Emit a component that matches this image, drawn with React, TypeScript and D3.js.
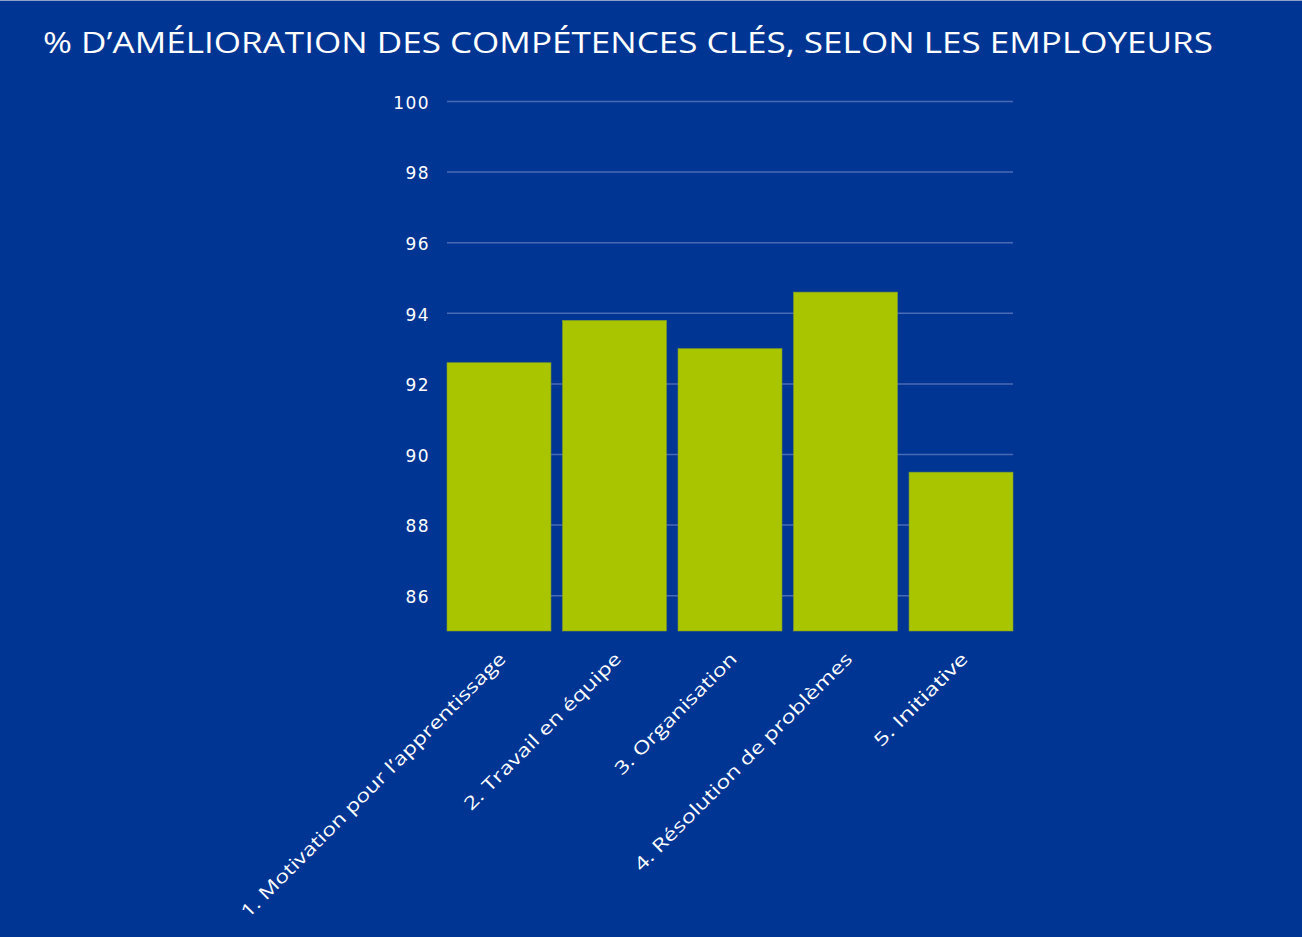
import React from "react";
import * as d3 from "d3";

const TITLE = "% D’AMÉLIORATION DES COMPÉTENCES CLÉS, SELON LES EMPLOYEURS";
const categories = [
  "1. Motivation pour l’apprentissage",
  "2. Travail en équipe",
  "3. Organisation",
  "4. Résolution de problèmes",
  "5. Initiative",
];
const values = [92.6, 93.8, 93.0, 94.6, 89.5];
const yTicks = [86, 88, 90, 92, 94, 96, 98, 100];
const labelLengths = [366, 214, 164, 300, 124];

const W = 1302;
const H = 937;
const BG = "#003594";
const BAR = "#a8c500";
const GRID = "#4a6ab4";
const FONT = "'Open Sans', 'DejaVu Sans', sans-serif";

export default function App() {
  const x = d3
    .scaleBand<string>()
    .domain(categories)
    .range([447, 1013])
    .paddingInner(0.1)
    .paddingOuter(0);
  const y = d3.scaleLinear().domain([85, 100]).range([631, 101.5]);

  return (
    <svg
      width={W}
      height={H}
      style={{ position: "absolute", left: 0, top: 0, display: "block" }}
    >
      <rect x={0} y={0} width={W} height={H} fill={BG} />
      <line x1={0} x2={W} y1={0.5} y2={0.5} stroke="#8da2c9" strokeWidth={1} />
      <text
        x={43}
        y={53}
        fill="#ffffff"
        fontFamily={FONT}
        fontSize={29}
        textLength={1170}
        lengthAdjust="spacingAndGlyphs"
      >
        {TITLE}
      </text>
      {yTicks.map((t) => (
        <g key={t}>
          <line
            x1={447}
            x2={1013}
            y1={y(t)}
            y2={y(t)}
            stroke={GRID}
            strokeWidth={1.5}
          />
          <text
            x={430}
            y={y(t) + 7.3}
            textAnchor="end"
            fill="#ffffff"
            fontFamily="'DejaVu Sans', sans-serif"
            fontSize={17}
            letterSpacing={1.4}
          >
            {t}
          </text>
        </g>
      ))}
      {categories.map((c, i) => (
        <rect
          key={c}
          x={x(c)!}
          y={y(values[i])}
          width={x.bandwidth()}
          height={y(85) - y(values[i])}
          fill={BAR}
          stroke="#7f9c2a"
          strokeWidth={0.6}
        />
      ))}
      {categories.map((c, i) => {
        const cx = x(c)! + x.bandwidth() / 2 + 8;
        const cy = 660;
        return (
          <text
            key={c}
            transform={`translate(${cx},${cy}) rotate(-45)`}
            textAnchor="end"
            fill="#ffffff"
            fontFamily={FONT}
            fontSize={18}
            textLength={labelLengths[i]}
            lengthAdjust="spacingAndGlyphs"
          >
            {c}
          </text>
        );
      })}
    </svg>
  );
}
